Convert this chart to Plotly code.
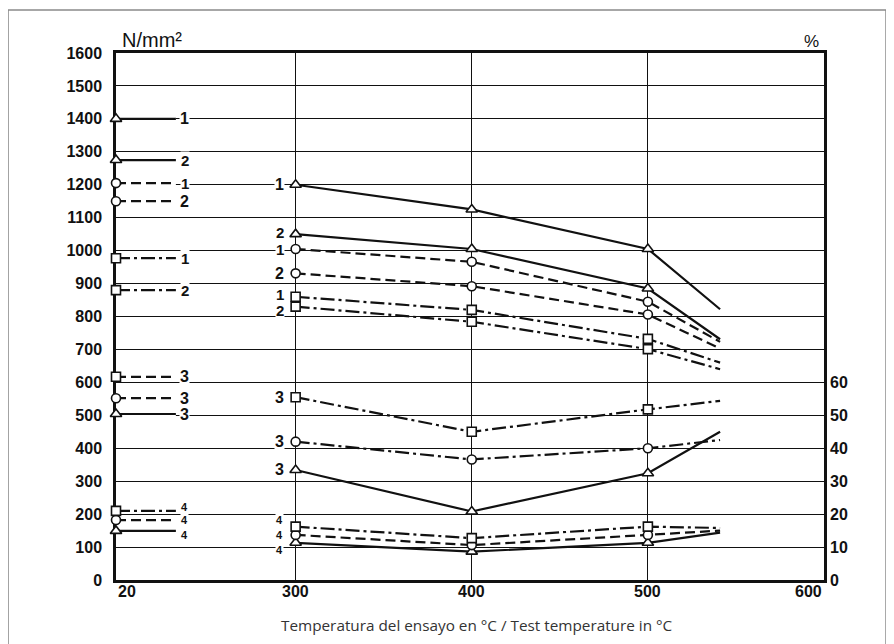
import plotly.graph_objects as go

# ---------------- data ----------------
temps = [300, 400, 500, 541]          # test temperatures (°C); last point = line end
room_temp = 20                         # room-temperature reference values
xtick_vals = [20, 300, 400, 500, 600]
ytick_left = list(range(0, 1700, 100))
ytick_right = list(range(0, 70, 10))

# N/mm² properties (curves 1 and 2)
tri1 = [1200, 1125, 1005, 822]
tri2 = [1050, 1005, 885, 731]
circ1 = [1005, 966, 845, 723]
circ2 = [931, 892, 806, 703]
sq1 = [860, 820, 732, 660]
sq2 = [830, 784, 701, 640]
# % properties (curves 3 and 4)
tri3 = [33.4, 20.8, 32.4, 45.0]
circ3 = [42.0, 36.6, 40.0, 42.5]
sq3 = [55.5, 45.0, 51.8, 54.4]
tri4 = [11.3, 8.6, 11.3, 14.4]
circ4 = [13.7, 10.6, 13.7, 15.0]
sq4 = [16.2, 12.7, 16.2, 15.8]

# values at 20 °C
room_tri = [1400, 1275, 50.4, 14.9]
room_circ = [1205, 1150, 55.2, 18.2]
room_sq = [977, 880, 61.7, 21.0]

labels = ["1", "2", "3", "4"]

# ---------------- style ----------------
X_BREAK = 198          # display position of the 20 °C axis (broken axis)
SEG_END = 232          # end of the short 20 °C segments
LBL_LEFT = 237         # label position after the short segments
LBL_300 = 291          # label position left of 300 °C markers
DASH = "10px,5px"
DASHDOT = "14px,4px,3px,4px"
BLACK = "#111111"
FONT = "Liberation Sans, Arial, sans-serif"


def xd(t):
    return X_BREAK if t == room_temp else t


series = [
    # values, room value, symbol, line dash, left-seg dash, axis, label,
    # label y-shift at 300, label y-shift at 20, label font size
    (tri1, room_tri[0], "triangle-up", "solid", "solid", "y", "1", 0, 0, 16),
    (tri2, room_tri[1], "triangle-up", "solid", "solid", "y", "2", 2, 0, 15),
    (circ1, room_circ[0], "circle", DASH, DASH, "y", "1", -1, 0, 15),
    (circ2, room_circ[1], "circle", DASH, DASH, "y", "2", 0, 0, 16),
    (sq1, room_sq[0], "square", DASHDOT, DASHDOT, "y", "1", 2, 0, 15),
    (sq2, room_sq[1], "square", DASHDOT, DASHDOT, "y", "2", -4, 0, 15),
    (tri3, room_tri[2], "triangle-up", "solid", "solid", "y2", "3", 0, 0, 16),
    (circ3, room_circ[2], "circle", DASHDOT, DASH, "y2", "3", 0, 0, 16),
    (sq3, room_sq[2], "square", DASHDOT, DASH, "y2", "3", 0, 0, 16),
    (tri4, room_tri[3], "triangle-up", "solid", "solid", "y2", "4", -7, -4, 11),
    (circ4, room_circ[3], "circle", DASH, DASH, "y2", "4", 0, 0, 11),
    (sq4, room_sq[3], "square", DASHDOT, DASHDOT, "y2", "4", 7, 4, 11),
]

fig = go.Figure()

# white underlay so the short 20 °C segments hide the grid behind them
for s in series:
    vals, rv, ax = s[0], s[1], s[5]
    fig.add_trace(go.Scatter(
        x=[xd(room_temp) + 3, SEG_END], y=[rv, rv], yaxis=ax, mode="lines",
        line=dict(color="white", width=5), hoverinfo="skip", showlegend=False))

# lines
for s in series:
    vals, rv, sym, dash, ldash, ax = s[:6]
    fig.add_trace(go.Scatter(
        x=[xd(t) for t in temps], y=vals, yaxis=ax, mode="lines",
        line=dict(color=BLACK, width=2.2, dash=dash), showlegend=False))
    fig.add_trace(go.Scatter(
        x=[xd(room_temp), SEG_END], y=[rv, rv], yaxis=ax, mode="lines",
        line=dict(color=BLACK, width=2.2, dash=ldash), showlegend=False,
        cliponaxis=False))

# markers (drawn on top, white filled)
for s in series:
    vals, rv, sym, dash, ldash, ax = s[:6]
    size = 10 if sym == "triangle-up" else 9
    fig.add_trace(go.Scatter(
        x=[xd(room_temp)] + [xd(t) for t in temps[:3]], y=[rv] + vals[:3], yaxis=ax,
        mode="markers", cliponaxis=False,
        marker=dict(symbol=sym, size=size, color="white",
                    line=dict(color=BLACK, width=1.6)),
        showlegend=False))

annotations = []
for vals, rv, sym, dash, ldash, ax, lab, ys, ysl, fs in series:
    yr = "y" if ax == "y" else "y2"
    lf = dict(family=FONT, size=fs, color=BLACK)
    annotations.append(dict(x=LBL_LEFT, y=rv, xref="x", yref=yr, text="<b>%s</b>" % lab,
                            showarrow=False, font=lf, bgcolor="white",
                            borderpad=0, xanchor="center", yanchor="middle",
                            yshift=ysl))
    annotations.append(dict(x=LBL_300, y=vals[0], xref="x", yref=yr, text="<b>%s</b>" % lab,
                            showarrow=False, font=lf, bgcolor="white",
                            borderpad=0, xanchor="center", yanchor="middle",
                            yshift=ys))

# x tick labels
TICK_FONT = dict(family=FONT, size=16, color=BLACK)
for v in xtick_vals:
    anchor = "left" if v == xtick_vals[0] else ("right" if v == xtick_vals[-1] else "center")
    annotations.append(dict(x=xd(v), y=0, xref="x", yref="y", text="<b>%d</b>" % v,
                            showarrow=False, font=TICK_FONT, xanchor=anchor,
                            yanchor="top", yshift=-1))

annotations += [
    dict(x=0.006, y=1.024, xref="paper", yref="paper", text="N/mm²", showarrow=False,
         font=dict(family=FONT, size=20, color=BLACK),
         xanchor="left", yanchor="middle"),
    dict(x=0.983, y=1.022, xref="paper", yref="paper", text="%", showarrow=False,
         font=dict(family=FONT, size=17, color=BLACK),
         xanchor="center", yanchor="middle"),
    dict(x=0.51, y=-0.085, xref="paper", yref="paper",
         text="Temperatura del ensayo en °C / Test temperature in °C", showarrow=False,
         font=dict(family="Open Sans, sans-serif", size=15.3, color="#333333"),
         xanchor="center", yanchor="middle"),
]

# the page body has an 8 px margin, so the figure is offset by 8 px
fig.update_layout(
    width=894, height=644,
    margin=dict(l=108, r=78, t=45, b=72, autoexpand=False),
    paper_bgcolor="white", plot_bgcolor="white",
    showlegend=False,
    annotations=annotations,
    xaxis=dict(range=[X_BREAK, 600], tickvals=[300, 400, 500], showticklabels=False,
               showgrid=True, gridcolor=BLACK, gridwidth=1.4, zeroline=False,
               showline=True, linecolor=BLACK, linewidth=2.5, mirror=True,
               layer="below traces", fixedrange=True, automargin=False),
    yaxis=dict(range=[0, 1600], tickvals=ytick_left,
               ticktext=["<b>%d</b>" % v for v in ytick_left],
               tickfont=TICK_FONT, showgrid=True, gridcolor=BLACK, gridwidth=1.4,
               zeroline=False, showline=True, linecolor=BLACK, linewidth=2.5,
               mirror=True, layer="below traces", ticks="", fixedrange=True,
               automargin=False, ticklabelstandoff=8),
    yaxis2=dict(range=[0, 160], overlaying="y", side="right", tickvals=ytick_right,
                ticktext=["<b>%d</b>" % v for v in ytick_right],
                tickfont=TICK_FONT, showgrid=False, zeroline=False, showline=False,
                ticks="", fixedrange=True, automargin=False, ticklabelstandoff=5),
    shapes=[dict(type="rect", xref="paper", yref="paper",
                 x0=-0.1525, x1=1.0876, y0=-0.2, y1=1.0816,
                 line=dict(color="#8a8a8a", width=1.5), layer="below")],
)

fig.write_html("out.html")
